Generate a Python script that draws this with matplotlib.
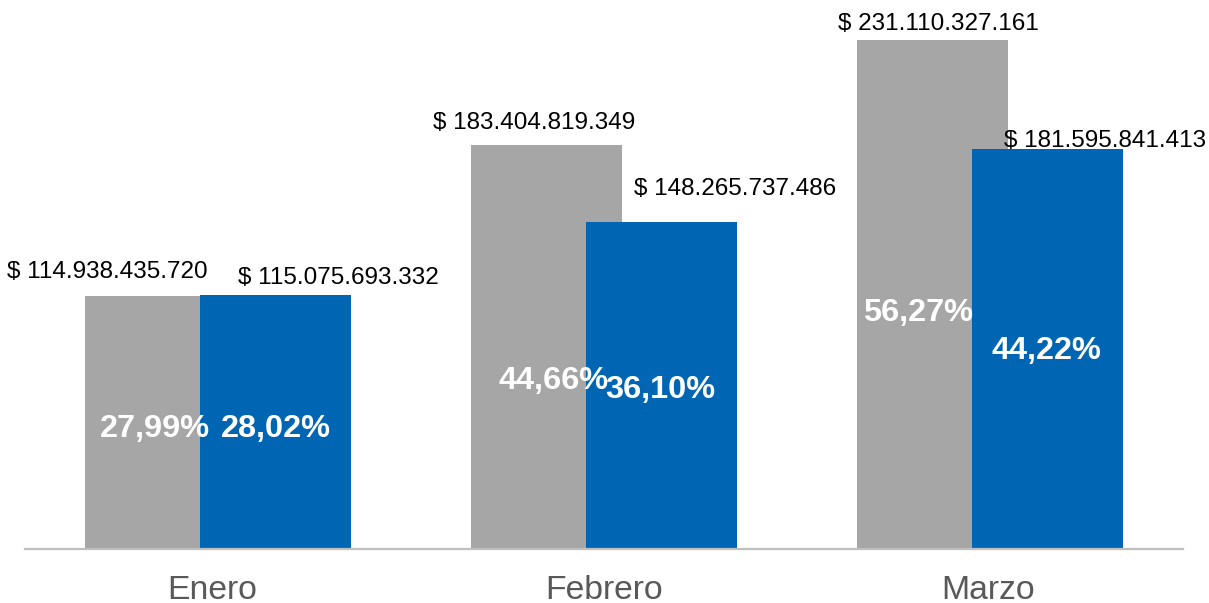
import matplotlib
matplotlib.use("Agg")
import matplotlib.pyplot as plt
import numpy as np

plt.rcParams['font.family'] = ['Liberation Sans', 'DejaVu Sans']

categories = ["Enero", "Febrero", "Marzo"]
serie_gris = [114938435720, 183404819349, 231110327161]
serie_azul = [115075693332, 148265737486, 181595841413]
pct_gris = ["27,99%", "44,66%", "56,27%"]
pct_azul = ["28,02%", "36,10%", "44,22%"]

# label placement (pixels offsets), manual as in original
val_off_gris = [(-53.5, 24), (-12.5, 22), (5.5, 16)]
val_off_azul = [(63, 17), (73.5, 33), (57.5, 8)]
pct_pos_gris = [(-5.5, 120), (6.5, 168), (-14.5, 236)]
pct_pos_azul = [(1, 120), (-0.5, 159), (-0.5, 198)]

GRAY = "#A6A6A6"
BLUE = "#0066B3"

fig = plt.figure(figsize=(12.09, 6.03), dpi=100)
ax = fig.add_axes([25 / 1209, (603 - 549) / 603, 1158 / 1209, 549 / 603])

x = np.arange(len(categories))
width = 0.391
off = 0.148
bars_g = ax.bar(x - off, serie_gris, width, color=GRAY, zorder=2)
bars_b = ax.bar(x + off, serie_azul, width, color=BLUE, zorder=3)

ax.set_xlim(-0.5, 2.5)
ax.set_ylim(0, 249.1e9)

px2pt = 0.72

def fmt(v):
    return "$ " + f"{v:,}".replace(",", ".")

for bars, vals, offs in [(bars_g, serie_gris, val_off_gris), (bars_b, serie_azul, val_off_azul)]:
    for b, v, (dx, dy) in zip(bars, vals, offs):
        ax.annotate(fmt(v), (b.get_x() + b.get_width() / 2, b.get_height()),
                    xytext=(dx * px2pt, dy * px2pt), textcoords="offset points",
                    ha="center", va="center", fontsize=17.5, color="black", zorder=5)

for bars, labs, poss in [(bars_g, pct_gris, pct_pos_gris), (bars_b, pct_azul, pct_pos_azul)]:
    for b, t, (dx, dy) in zip(bars, labs, poss):
        ax.annotate(t, (b.get_x() + b.get_width() / 2, 0),
                    xytext=(dx * px2pt, dy * px2pt), textcoords="offset points",
                    ha="center", va="center", fontsize=23.4, fontweight="bold",
                    color="white", zorder=6)

for s in ["top", "right", "left"]:
    ax.spines[s].set_visible(False)
ax.spines["bottom"].set_color("#BFBFBF")
ax.spines["bottom"].set_linewidth(1.6)
ax.spines["bottom"].set_zorder(4)
ax.set_yticks([])
ax.set_xticks(x)
ax.set_xticklabels(categories, fontsize=24.3, color="#595959")
ax.tick_params(axis="x", length=0, pad=19)
for lab, dx in zip(ax.get_xticklabels(), [-6, 0, -2]):
    lab.set_transform(lab.get_transform() + matplotlib.transforms.ScaledTranslation(dx / 100, 0, fig.dpi_scale_trans))

fig.savefig("out.png", dpi=100)
